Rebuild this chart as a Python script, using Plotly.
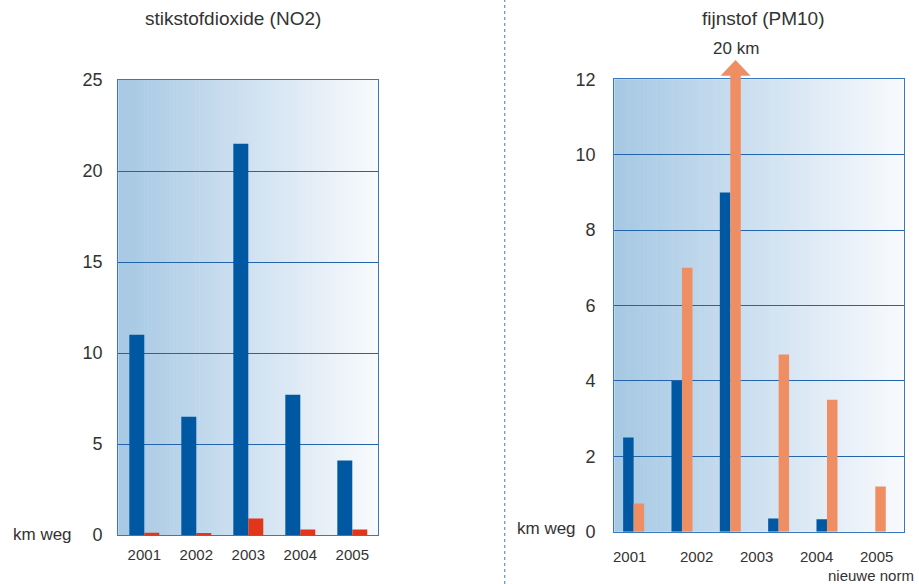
import plotly.graph_objects as go

# ---------------- data ----------------
no2_years = ["2001", "2002", "2003", "2004", "2005"]
no2_blue = [11.0, 6.5, 21.5, 7.7, 4.1]
no2_red = [0.12, 0.08, 0.9, 0.3, 0.3]
no2_yticks = [0, 5, 10, 15, 20, 25]

pm_groups = ["2001", "2002", "2003", "2004", "2005", "2005 nieuwe norm"]
pm_blue = [2.5, 4.0, 9.0, 0.35, 0.33, 0.0]
pm_orange = [0.75, 7.0, 20.0, 4.7, 3.5, 1.2]
pm_yticks = [0, 2, 4, 6, 8, 10, 12]
pm_xlabels = ["2001", "2002", "2003", "2004", "2005"]
pm_xlabel_pos = [-0.08, 1.30, 2.54, 3.78, 5.02]

title_left = "stikstofdioxide (NO2)"
title_right = "fijnstof (PM10)"
unit_label = "km weg"
norm_label = "nieuwe norm"

# ---------------- style ----------------
W, H = 919, 584
BLUE = "#0058a3"
RED = "#e2361b"
ORANGE = "#f08e63"
GRID = "#2464ad"
BORDER = "#3a78bd"
TXT = "#333333"
FONT = "Liberation Sans"

def px_x(p):
    return p / W

def px_y(p):
    return (H - p) / H

L_dom_x = [px_x(118.3), px_x(378.3)]
L_dom_y = [px_y(535), px_y(80)]
R_dom_x = [px_x(614.3), px_x(904.3)]
R_dom_y = [px_y(531.7), px_y(79.3)]

R_range = [-0.40, 5.60]
R_ymax = 12

wL = 0.288
wR = 0.217

fig = go.Figure()

xs_left = list(range(len(no2_years)))
fig.add_trace(go.Bar(x=xs_left, y=no2_blue, marker_color=BLUE, width=wL, offset=-wL,
                     xaxis="x", yaxis="y", showlegend=False, marker_line_width=0))
fig.add_trace(go.Bar(x=xs_left, y=no2_red, marker_color=RED, width=wL, offset=0,
                     xaxis="x", yaxis="y", showlegend=False, marker_line_width=0))

xs_right = list(range(len(pm_groups)))
fig.add_trace(go.Bar(x=xs_right, y=pm_blue, marker_color=BLUE, width=wR, offset=-wR,
                     xaxis="x2", yaxis="y2", showlegend=False, marker_line_width=0))
fig.add_trace(go.Bar(x=xs_right, y=pm_orange, marker_color=ORANGE, width=wR, offset=0,
                     xaxis="x2", yaxis="y2", showlegend=False, marker_line_width=0))

shapes = []
# gradient backgrounds
N = 90
c0 = (166, 200, 228)
c1 = (248, 250, 253)
for xa in ["x", "x2"]:
    for i in range(N):
        t = i / (N - 1)
        c = tuple(round(c0[k] + (c1[k] - c0[k]) * t) for k in range(3))
        shapes.append(dict(type="rect", xref=f"{xa} domain", yref=f"{'y' if xa == 'x' else 'y2'} domain",
                           x0=i / N, x1=(i + 1) / N + 0.002, y0=0, y1=1,
                           fillcolor=f"rgb{c}", line_width=0, layer="below"))

# arrow for clipped bar
y2top_px = 79.3
arrow_x, arrow_text = None, ""
for i, v in enumerate(pm_orange):
    if v > R_ymax:
        xc = i + wR / 2
        span = R_range[1] - R_range[0]
        dc = (xc - R_range[0]) / span
        hw = (wR / 2) / span
        hh = 15 / (R_dom_x[1] - R_dom_x[0]) / W
        ytop = px_y(y2top_px) - 0.002
        ybase = px_y(75.7)
        ytip = px_y(60)
        path = (f"M {dc-hw},{ytop} L {dc-hw},{ybase} L {dc-hh},{ybase} L {dc},{ytip} "
                f"L {dc+hh},{ybase} L {dc+hw},{ybase} L {dc+hw},{ytop} Z")
        shapes.append(dict(type="path", xref="x2 domain", yref="paper", path=path,
                           fillcolor=ORANGE, line_width=0, layer="above"))
        arrow_x = dc
        arrow_text = f"{int(v)} km"

# dotted divider
shapes.append(dict(type="line", xref="paper", yref="paper", x0=px_x(504.7), x1=px_x(504.7),
                   y0=0, y1=1, line=dict(color="#5b95cc", width=1.2, dash="dot")))

annotations = [
    dict(text=title_left, x=px_x(233), y=px_y(19), xref="paper", yref="paper",
         showarrow=False, xanchor="center", yanchor="middle", font=dict(size=19, color=TXT, family=FONT)),
    dict(text=title_right, x=px_x(763), y=px_y(19), xref="paper", yref="paper",
         showarrow=False, xanchor="center", yanchor="middle", font=dict(size=19, color=TXT, family=FONT)),
    dict(text=unit_label, x=px_x(11), y=px_y(534), xref="paper", yref="paper",
         showarrow=False, xanchor="left", yanchor="middle", font=dict(size=17, color=TXT, family=FONT)),
    dict(text=unit_label, x=px_x(515), y=px_y(528), xref="paper", yref="paper",
         showarrow=False, xanchor="left", yanchor="middle", font=dict(size=17, color=TXT, family=FONT)),
    dict(text=norm_label, x=px_x(916), y=px_y(575), xref="paper", yref="paper",
         showarrow=False, xanchor="right", yanchor="middle", font=dict(size=15, color=TXT, family=FONT)),
    dict(text=arrow_text, x=arrow_x, y=px_y(49), xref="x2 domain", yref="paper",
         showarrow=False, xanchor="center", yanchor="middle", font=dict(size=17, color=TXT, family=FONT)),
]
for lab, pos in zip(pm_xlabels, pm_xlabel_pos):
    annotations.append(dict(text=lab, x=pos, y=px_y(556), xref="x2", yref="paper",
                            showarrow=False, xanchor="center", yanchor="middle",
                            font=dict(size=15, color=TXT, family=FONT)))

axis_common = dict(showline=True, linecolor=BORDER, linewidth=1.3, mirror=True,
                   ticks="", zeroline=False)

fig.update_layout(
    width=W, height=H,
    margin=dict(l=0, r=0, t=0, b=0, autoexpand=False),
    paper_bgcolor="white", plot_bgcolor="rgba(0,0,0,0)",
    barmode="overlay",
    font=dict(family=FONT, color=TXT),
    shapes=shapes, annotations=annotations,
    xaxis=dict(domain=L_dom_x, anchor="y", range=[-0.5, len(no2_years) - 0.5],
               tickvals=xs_left, ticktext=no2_years, showgrid=False,
               tickfont=dict(size=15, color=TXT), ticklabelstandoff=6, **axis_common),
    yaxis=dict(domain=L_dom_y, anchor="x", range=[0, no2_yticks[-1]], tickvals=no2_yticks,
               showgrid=True, gridcolor=GRID, gridwidth=1,
               tickfont=dict(size=18, color=TXT), ticklabelstandoff=11, **axis_common),
    xaxis2=dict(domain=R_dom_x, anchor="y2", range=R_range, showticklabels=False,
                showgrid=False, **axis_common),
    yaxis2=dict(domain=R_dom_y, anchor="x2", range=[0, R_ymax], tickvals=pm_yticks,
                showgrid=True, gridcolor=GRID, gridwidth=1,
                tickfont=dict(size=18, color=TXT), ticklabelstandoff=14, **axis_common),
)

fig.write_html("out.html", config={"displayModeBar": False},
               post_script="document.body.style.margin='0';document.body.style.padding='0';")
